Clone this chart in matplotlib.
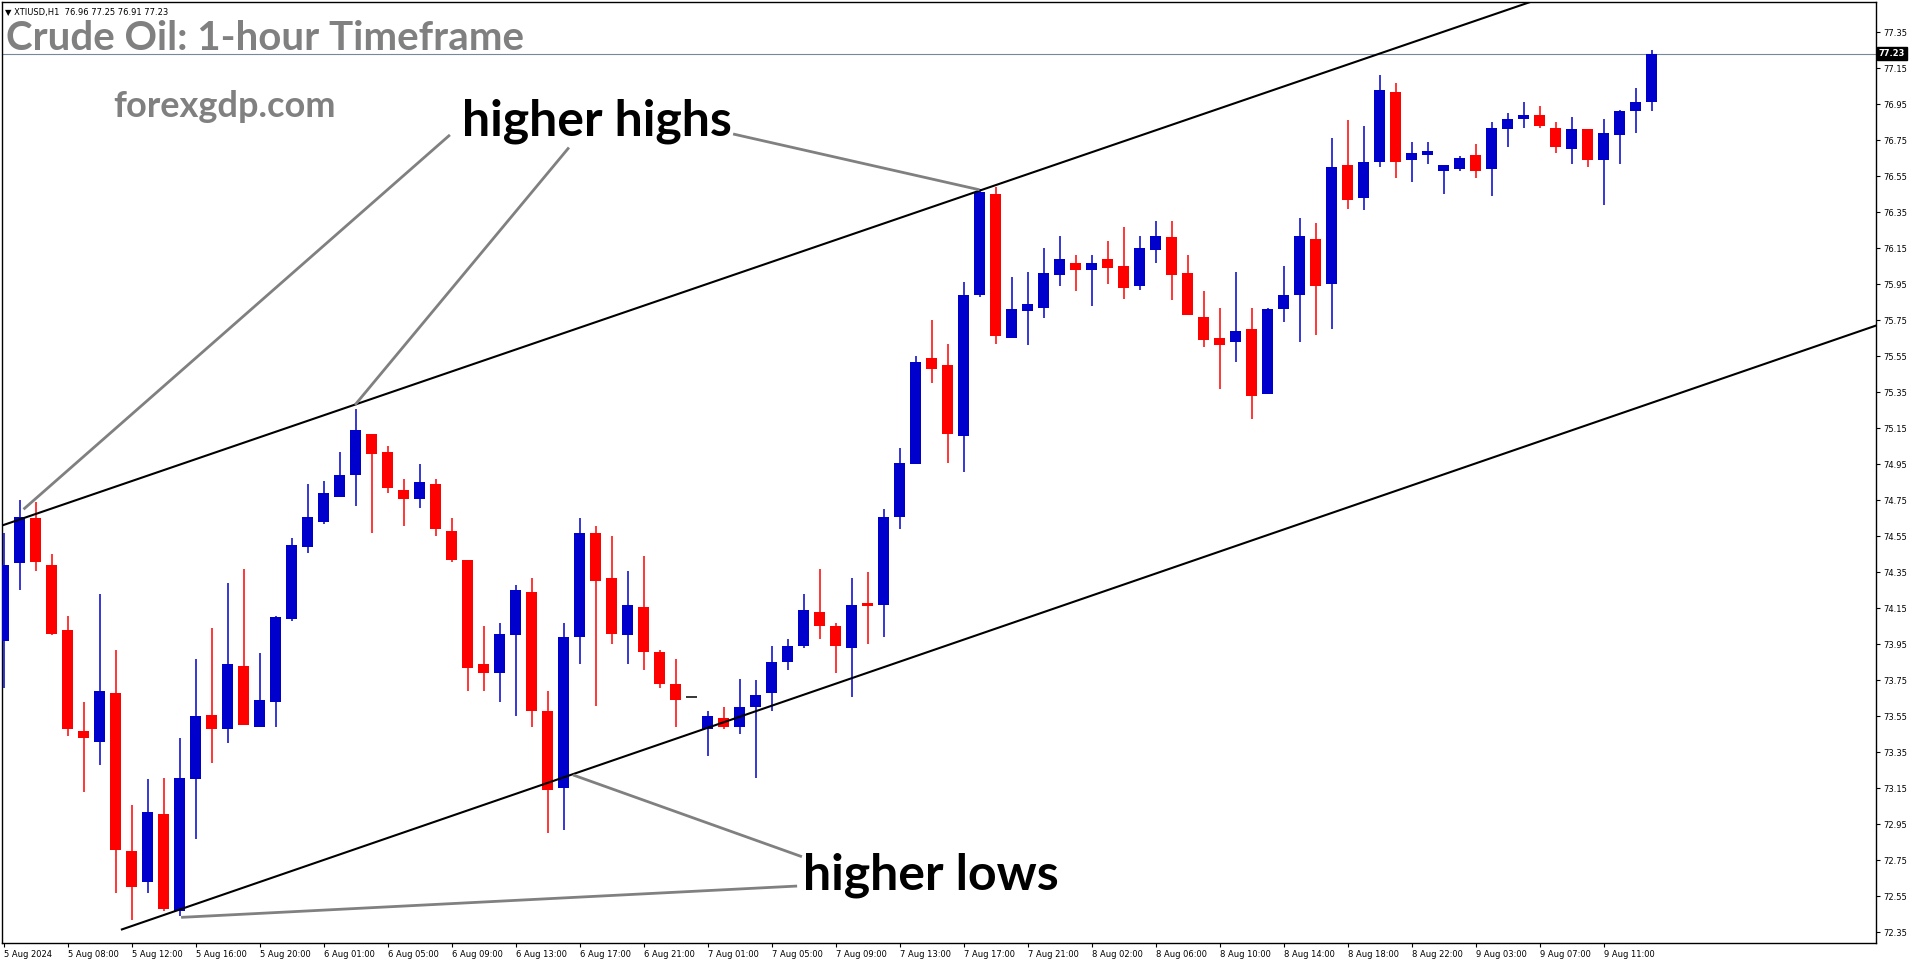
import numpy as np
import matplotlib
matplotlib.use('Agg')
import matplotlib.pyplot as plt
import matplotlib.transforms as mtransforms

# XTIUSD H1 candles
opens = [73.97, 74.40, 74.65, 74.39, 74.03, 73.47, 73.41, 73.68, 72.80, 72.63,
         73.01, 72.47, 73.20, 73.56, 73.48, 73.83, 73.49, 73.63, 74.09, 74.49,
         74.63, 74.77, 74.89, 75.12, 75.02, 74.81, 74.76, 74.84, 74.58, 74.42,
         73.84, 73.79, 74.00, 74.24, 73.58, 73.15, 73.99, 74.57, 74.32, 74.00,
         74.16, 73.91, 73.73, 73.66, 73.48, 73.54, 73.49, 73.60, 73.68, 73.85,
         73.94, 74.13, 74.05, 73.93, 74.18, 74.17, 74.66, 74.95, 75.54, 75.50,
         75.11, 75.89, 76.45, 75.65, 75.80, 75.82, 76.00, 76.07, 76.03, 76.09,
         76.05, 75.94, 76.14, 76.21, 76.01, 75.77, 75.65, 75.63, 75.70, 75.34,
         75.81, 75.89, 76.20, 75.95, 76.61, 76.43, 76.63, 77.02, 76.64, 76.67,
         76.58, 76.59, 76.67, 76.59, 76.81, 76.87, 76.89, 76.82, 76.70, 76.81,
         76.64, 76.78, 76.91, 76.96]
highs = [74.57, 74.75, 74.74, 74.45, 74.11, 73.63, 74.23, 73.92, 73.06, 73.20,
         73.21, 73.43, 73.87, 74.04, 74.29, 74.37, 73.90, 74.11, 74.54, 74.84,
         74.86, 75.02, 75.26, 75.12, 75.05, 74.87, 74.95, 74.87, 74.65, 74.42,
         74.05, 74.07, 74.28, 74.32, 73.69, 74.07, 74.65, 74.61, 74.55, 74.36,
         74.44, 73.92, 73.87, 73.66, 73.58, 73.60, 73.76, 73.75, 73.94, 73.98,
         74.23, 74.37, 74.07, 74.32, 74.35, 74.70, 75.04, 75.55, 75.75, 75.62,
         75.96, 76.48, 76.49, 75.99, 76.02, 76.15, 76.22, 76.11, 76.11, 76.19,
         76.27, 76.22, 76.30, 76.30, 76.11, 75.91, 75.82, 76.02, 75.82, 75.82,
         76.05, 76.32, 76.29, 76.76, 76.86, 76.83, 77.11, 77.07, 76.74, 76.74,
         76.61, 76.66, 76.73, 76.85, 76.90, 76.96, 76.94, 76.85, 76.88, 76.81,
         76.87, 76.92, 77.04, 77.25]
lows = [73.71, 74.25, 74.36, 74.00, 73.44, 73.13, 73.28, 72.57, 72.42, 72.57,
        72.47, 72.44, 72.87, 73.29, 73.40, 73.50, 73.49, 73.49, 74.08, 74.46,
        74.62, 74.77, 74.72, 74.57, 74.79, 74.61, 74.71, 74.55, 74.41, 73.69,
        73.69, 73.63, 73.55, 73.49, 72.90, 72.92, 73.84, 73.61, 73.95, 73.84,
        73.81, 73.71, 73.49, 73.66, 73.33, 73.48, 73.45, 73.21, 73.58, 73.81,
        73.93, 73.98, 73.79, 73.66, 73.95, 73.99, 74.59, 74.95, 75.40, 74.96,
        74.91, 75.88, 75.62, 75.65, 75.61, 75.76, 75.94, 75.91, 75.83, 75.95,
        75.87, 75.92, 76.07, 75.86, 75.78, 75.60, 75.37, 75.52, 75.20, 75.34,
        75.74, 75.63, 75.67, 75.70, 76.37, 76.36, 76.60, 76.54, 76.52, 76.62,
        76.45, 76.58, 76.54, 76.44, 76.71, 76.82, 76.82, 76.68, 76.62, 76.60,
        76.39, 76.62, 76.79, 76.91]
closes = [74.39, 74.66, 74.41, 74.01, 73.48, 73.43, 73.69, 72.81, 72.60, 73.02,
          72.48, 73.21, 73.55, 73.48, 73.84, 73.50, 73.64, 74.10, 74.50, 74.66,
          74.79, 74.89, 75.14, 75.01, 74.82, 74.76, 74.85, 74.59, 74.42, 73.82,
          73.79, 74.01, 74.25, 73.58, 73.14, 73.99, 74.57, 74.30, 74.01, 74.17,
          73.91, 73.73, 73.64, 73.66, 73.55, 73.49, 73.60, 73.67, 73.85, 73.94,
          74.14, 74.05, 73.94, 74.17, 74.165, 74.66, 74.96, 75.52, 75.48, 75.12,
          75.89, 76.46, 75.66, 75.81, 75.84, 76.01, 76.09, 76.03, 76.07, 76.04,
          75.93, 76.15, 76.22, 76.00, 75.78, 75.64, 75.61, 75.69, 75.33, 75.81,
          75.89, 76.22, 75.94, 76.60, 76.42, 76.63, 77.03, 76.63, 76.68, 76.69,
          76.61, 76.65, 76.58, 76.82, 76.87, 76.89, 76.83, 76.71, 76.81, 76.64,
          76.79, 76.91, 76.96, 77.23]

time_labels = ['5 Aug 2024', '5 Aug 08:00', '5 Aug 12:00', '5 Aug 16:00', '5 Aug 20:00',
               '6 Aug 01:00', '6 Aug 05:00', '6 Aug 09:00', '6 Aug 13:00', '6 Aug 17:00',
               '6 Aug 21:00', '7 Aug 01:00', '7 Aug 05:00', '7 Aug 09:00', '7 Aug 13:00',
               '7 Aug 17:00', '7 Aug 21:00', '8 Aug 02:00', '8 Aug 06:00', '8 Aug 10:00',
               '8 Aug 14:00', '8 Aug 18:00', '8 Aug 22:00', '9 Aug 03:00', '9 Aug 07:00',
               '9 Aug 11:00']
last_price = 77.23

W, H = 1916, 964
BLUE = '#0000CD'
RED = '#FF0000'
GRAY = '#808080'

fig = plt.figure(figsize=(W / 100, H / 100), dpi=100)
ax = fig.add_axes([2 / W, 1 - 943 / H, 1874 / W, 941 / H])

x = np.arange(len(opens))
o = np.array(opens)
c = np.array(closes)
cols = np.where(c > o, BLUE, np.where(c < o, RED, 'black'))

ax.vlines(x, lows, highs, colors=cols, linewidth=1.1, zorder=3)
body = np.abs(c - o) > 0.001
ax.bar(x[body], np.abs(c - o)[body], bottom=np.minimum(o, c)[body], width=0.69,
       color=cols[body], linewidth=0, zorder=4)
ax.hlines(o[~body], x[~body] - 0.35, x[~body] + 0.35, colors='black', linewidth=1.1, zorder=4)

# channel lines
xl = np.array([-0.1, 118])
ax.plot(xl, 74.61 + 0.03045 * (xl + 0.09), color='black', lw=1.5, zorder=5)
xr = np.array([7.4, 118])
ax.plot(xr, 72.366 + 0.0306 * (xr - 7.4), color='black', lw=1.5, zorder=5)

# pointer lines to the labels
for (x0, y0), (x1, y1) in [((1.25, 74.70), (27.9, 76.78)),
                           ((21.97, 75.28), (35.34, 76.71)),
                           ((45.6, 76.785), (61.0, 76.475)),
                           ((35.6, 73.224), (49.9, 72.77)),
                           ((11.1, 72.433), (49.6, 72.607))]:
    ax.plot([x0, x1], [y0, y1], color=GRAY, lw=2, zorder=6, solid_capstyle='butt')

ax.axhline(last_price, color='#778899', lw=0.8, zorder=2)

ax.set_xlim(-0.094, 117.03)
ax.set_ylim(72.2906, 77.5183)

ax.yaxis.tick_right()
yt = np.round(np.arange(72.35, 77.36, 0.2), 2)
ax.set_yticks(yt, ['%.2f' % v for v in yt])
ax.set_xticks(np.arange(0, 101, 4), time_labels, ha='left')
ax.tick_params(axis='both', direction='out', length=3, width=0.8, labelsize=6, colors='black')
ax.tick_params(axis='y', pad=2)
ax.tick_params(axis='x', pad=2)
for sp in ax.spines.values():
    sp.set_color('black')
    sp.set_linewidth(1)

trans = mtransforms.blended_transform_factory(ax.transAxes, ax.transData)
ax.text(1.0015, last_price, '77.23', transform=trans, ha='left', va='center',
        fontsize=6, color='white', fontweight='bold',
        bbox=dict(facecolor='black', edgecolor='black', pad=1.5))


def fx(px):
    return px / W


def fy(py):
    return 1 - py / H


fig.text(fx(5), fy(15), '\u25bc XTIUSD,H1  76.96 77.25 76.91 77.23', fontsize=6,
         family='DejaVu Sans', va='baseline')
fig.text(fx(6), fy(50), 'Crude Oil: 1-hour Timeframe', fontsize=29, family='Lato',
         fontweight='bold', color=GRAY, va='baseline')
fig.text(fx(113), fy(117), 'forexgdp.com', fontsize=26, family='Lato',
         fontweight='bold', color=GRAY, va='baseline')
fig.text(fx(462), fy(136), 'higher highs', fontsize=36, family='Lato',
         fontweight='bold', color='black', va='baseline')
fig.text(fx(803), fy(890), 'higher lows', fontsize=36, family='Lato',
         fontweight='bold', color='black', va='baseline')

fig.savefig('out.png', dpi=100, facecolor='white')
